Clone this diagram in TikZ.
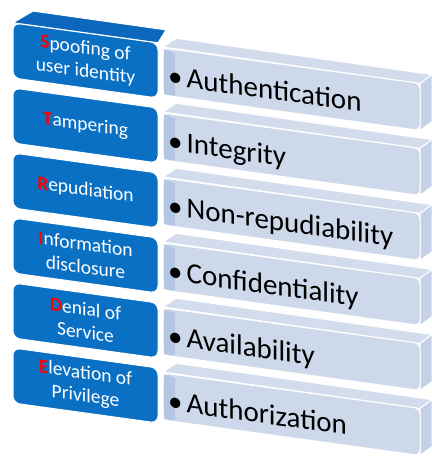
\documentclass[tikz,border=0pt]{standalone}
\usepackage{fontspec}
\setmainfont{Carlito}
\definecolor{threat}{HTML}{0A70C4}
\definecolor{threattop}{HTML}{0C68BC}
\definecolor{goal}{HTML}{CDD8EA}
\definecolor{goaltop}{HTML}{D3DCEC}
\definecolor{goalside}{HTML}{C4D1E6}
\definecolor{goalshade}{HTML}{B3C6E2}
\tikzset{
  threatbox/.style={fill=threat,draw=white,line width=1pt,rounded corners=7pt},
  goalbox/.style={fill=goal,draw=white,line width=1pt,rounded corners=5pt},
  goalface/.style={fill=goaltop,draw=white,line width=1pt},
  threatlabel/.style={text=white,font=\fontsize{19.5}{23}\selectfont,align=center,transform shape},
  goallabel/.style={font=\fontsize{29}{32}\selectfont,anchor=base west,inner sep=0pt,transform shape}
}
\begin{document}
\begin{tikzpicture}[x=1pt,y=-1pt]
\useasboundingbox (0,0) rectangle (432,459);
\begin{scope}[yslant=-0.138]
\draw[fill=threattop,draw=white,line width=1pt] (13,21) -- (33,6.5) -- (166,7) -- (158,21) -- cycle;
\foreach \i/\f/\a/\b in {0/S/poofing of\\user identity/Authentication,
  1/T/ampering/Integrity,
  2/R/epudiation/Non-repudiability,
  3/I/nformation\\disclosure/Confidentiality,
  4/D/enial of\\Service/Availability,
  5/E/levation of\\Privilege/Authorization}{
\begin{scope}[yshift=-65*\i]
\draw[goalface] (163,24.5) -- (176,14) -- (432,15) -- (420,25.5) -- cycle;
\draw[goalface,fill=goalside] (420,25.5) -- (432,15) -- (432,62) -- (420,72.5) -- cycle;
\draw[goalbox] (163,25.5) rectangle (420,72.5);
\fill[goalshade] (164,26.5) -- (175,29) -- (175,71.5) -- (164,71.5) -- cycle;
\node[goallabel] (goal\i) at (168,62) {\textbullet\hspace{4pt}\b};
\draw[threatbox] (13,21.2) rectangle (158,76.2);
\node[threatlabel] (threat\i) at (85.5,48.7) {\textcolor{red}{\textbf{\f}}\a};
\end{scope}
}
\end{scope}
\end{tikzpicture}
\end{document}
